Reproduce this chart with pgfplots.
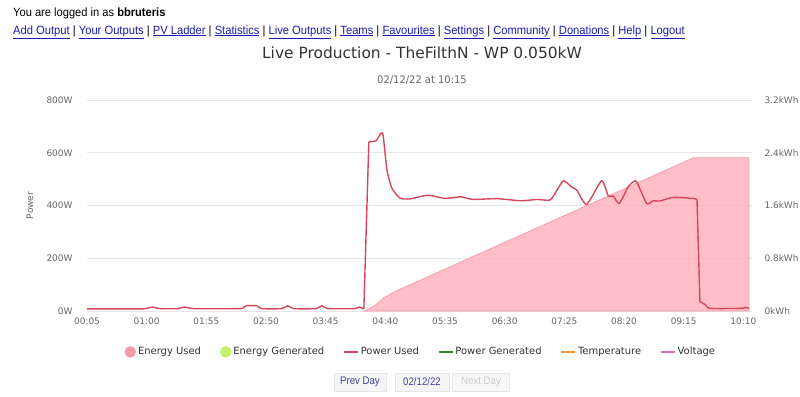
\documentclass[border=0pt]{standalone}
\usepackage{pgfplots}
\pgfplotsset{compat=1.18}
\usepackage{pgfplotstable}
\usepackage{fontspec}
\setmainfont{DejaVu Sans}
\newfontfamily\arial{Liberation Sans}
\definecolor{fillpink}{HTML}{FFB3BE}
\definecolor{edgepink}{HTML}{F3A0AC}
\definecolor{legpink}{HTML}{F29BA8}
\definecolor{powred}{HTML}{D6455B}
\definecolor{egreen}{HTML}{C5F06E}
\definecolor{pgreen}{HTML}{2E8B2E}
\definecolor{torange}{HTML}{F39341}
\definecolor{vviolet}{HTML}{D66FB7}
\definecolor{gridc}{HTML}{E6E6E6}
\definecolor{tickc}{HTML}{666666}
\definecolor{txt}{HTML}{333333}
\definecolor{linkblue}{HTML}{1A1AB0}

\pgfplotstableread{
t e
260.2 0
263 0.015
271 0.09
278.5 0.2
289.5 0.3
564.2 2.325
615.3 2.325
}\energy

\pgfplotstableread{
t p
5 8
53.6 8
60 10
65.6 15
72 9
88.6 9
95 15
104 9
145.8 9
149 13
152 20
161.5 20
166 9
184.6 9
190 20
195.6 9
216 9
221.5 20
227 9
252 9
255.6 15
260.2 8
264.8 642
271.3 645
275.9 674
278 665
281.5 534
286 466
293.6 428
302.9 425
319.2 439
335 427
349 433
361 423
383 426
404.6 418
420 423
432 421
438.5 460
444.3 494
452 469
456.4 459
465.6 404
479.4 494
485.5 436
490 436
495.6 408
503.7 470
508.6 490
511.7 490
520.9 408
527 418
533 417
545.4 431
565.4 426
567.3 420
570 35
574.6 25
579.3 10
608.5 10
611.6 14
615.3 10
}\power

\newcommand{\lk}[1]{\underline{#1}}
\newcommand{\sep}{\textcolor{black}{\ |\ }}

\begin{document}
\begin{tikzpicture}[x=1bp,y=1bp]
\path[use as bounding box] (0,0) rectangle (800,396);

% header
\node[anchor=west, inner sep=0, font=\arial\fontsize{12}{14}\selectfont] at (13,382.5)
  {\scalebox{0.93}[1]{You are logged in as \textbf{bbruteris}}};
\node[anchor=west, inner sep=0, font=\arial\fontsize{12}{14}\selectfont, text=linkblue] at (13,364)
  {\scalebox{0.935}[1]{\lk{Add Output}\sep\lk{Your Outputs}\sep\lk{PV Ladder}\sep\lk{Statistics}\sep\lk{Live Outputs}\sep\lk{Teams}\sep\lk{Favourites}\sep\lk{Settings}\sep\lk{Community}\sep\lk{Donations}\sep\lk{Help}\sep\lk{Logout}}};

% title
\node[inner sep=0, font=\fontsize{15.5}{17}\selectfont, text=txt] at (422,343)
  {Live Production - TheFilthN - WP 0.050kW};
\node[inner sep=0, font=\fontsize{10.5}{12}\selectfont, text=tickc] at (422,316)
  {\scalebox{0.95}[1]{02/12/22 at 10:15}};

% energy axis (right)
\begin{axis}[
  at={(87bp,85bp)}, anchor=south west,
  scale only axis, width=665bp, height=211bp,
  xmin=5, xmax=618, ymin=0, ymax=3.2,
  axis line style={draw=none},
  xtick=\empty,
  yticklabel pos=right,
  ytick={0,0.8,1.6,2.4,3.2},
  yticklabels={0kWh,0.8kWh,1.6kWh,2.4kWh,3.2kWh},
  major tick length=0pt,
  yticklabel style={font=\fontsize{9}{10}\selectfont, text=tickc, anchor=west, xshift=9bp},
  ymajorgrids, grid style={gridc, line width=0.8pt},
  clip=false,
]
\addplot[draw=edgepink, line width=0.8pt, fill=fillpink, fill opacity=0.85] table[x=t,y=e] {\energy} \closedcycle;
\end{axis}

% power axis (left)
\begin{axis}[
  at={(87bp,85bp)}, anchor=south west,
  scale only axis, width=665bp, height=211bp,
  xmin=5, xmax=618, ymin=0, ymax=800,
  axis line style={draw=none},
  xtick={5,60,115,170,225,280,335,390,445,500,555,610},
  xticklabels={00:05,01:00,01:55,02:50,03:45,04:40,05:35,06:30,07:25,08:20,09:15,10:10},
  ytick={0,200,400,600,800},
  yticklabels={0W,200W,400W,600W,800W},
  major tick length=0pt,
  xticklabel style={font=\fontsize{9}{10}\selectfont, text=tickc, yshift=-3bp},
  yticklabel style={font=\fontsize{9}{10}\selectfont, text=tickc, anchor=east, xshift=-11bp},
  ylabel={Power}, ylabel style={font=\fontsize{9}{10}\selectfont, text=tickc, at={(axis description cs:-0.086,0.5)}, anchor=center},
  legend columns=6,
  legend style={at={(0.502,-0.194)}, anchor=center, draw=none, fill=none,
    font=\fontsize{10}{12}\selectfont, text=txt,
    /tikz/every even column/.append style={column sep=17bp},
    /tikz/every odd column/.append style={column sep=0bp}},
  legend cell align=left,
  clip=false,
]
\addplot[forget plot, powred, line width=1.4pt, smooth, tension=0.35, restrict x to domain=5:260.3] table[x=t,y=p] {\power};
\addplot[forget plot, powred, line width=1.4pt, restrict x to domain=260:265] table[x=t,y=p] {\power};
\addplot[forget plot, powred, line width=1.4pt, smooth, tension=0.35, restrict x to domain=264.7:567.4] table[x=t,y=p] {\power};
\addplot[forget plot, powred, line width=1.4pt, restrict x to domain=567.2:570.1] table[x=t,y=p] {\power};
\addplot[forget plot, powred, line width=1.4pt, smooth, tension=0.35, restrict x to domain=569.9:616] table[x=t,y=p] {\power};
\addlegendimage{legend image code/.code={\fill[legpink] (7bp,0) circle (5.5bp);}}
\addlegendentry{Energy Used}
\addlegendimage{legend image code/.code={\fill[egreen] (7bp,0) circle (5.5bp);}}
\addlegendentry{Energy Generated}
\addlegendimage{legend image code/.code={\draw[powred, line width=1.5pt] (0,0)--(14bp,0);}}
\addlegendentry{Power Used}
\addlegendimage{legend image code/.code={\draw[pgreen, line width=1.5pt] (0,0)--(14bp,0);}}
\addlegendentry{Power Generated}
\addlegendimage{legend image code/.code={\draw[torange, line width=1.5pt] (0,0)--(14bp,0);}}
\addlegendentry{Temperature}
\addlegendimage{legend image code/.code={\draw[vviolet, line width=1.5pt] (0,0)--(14bp,0);}}
\addlegendentry{Voltage}
\end{axis}

% buttons
\node[draw=gridc, fill=black!4, minimum width=52bp, minimum height=18bp, inner sep=0,
  font=\arial\fontsize{11}{12}\selectfont, text=linkblue!60!gray] at (360,14) {\scalebox{0.88}[1]{Prev Day}};
\node[draw=gridc, fill=black!4, minimum width=54bp, minimum height=18bp, inner sep=0,
  font=\arial\fontsize{11}{12}\selectfont, text=linkblue!60!gray] at (422,14) {\scalebox{0.88}[1]{02/12/22}};
\node[draw=gridc, fill=black!3, minimum width=57bp, minimum height=18bp, inner sep=0,
  font=\arial\fontsize{11}{12}\selectfont, text=black!20] at (481,14) {\scalebox{0.88}[1]{Next Day}};
\end{tikzpicture}
\end{document}
